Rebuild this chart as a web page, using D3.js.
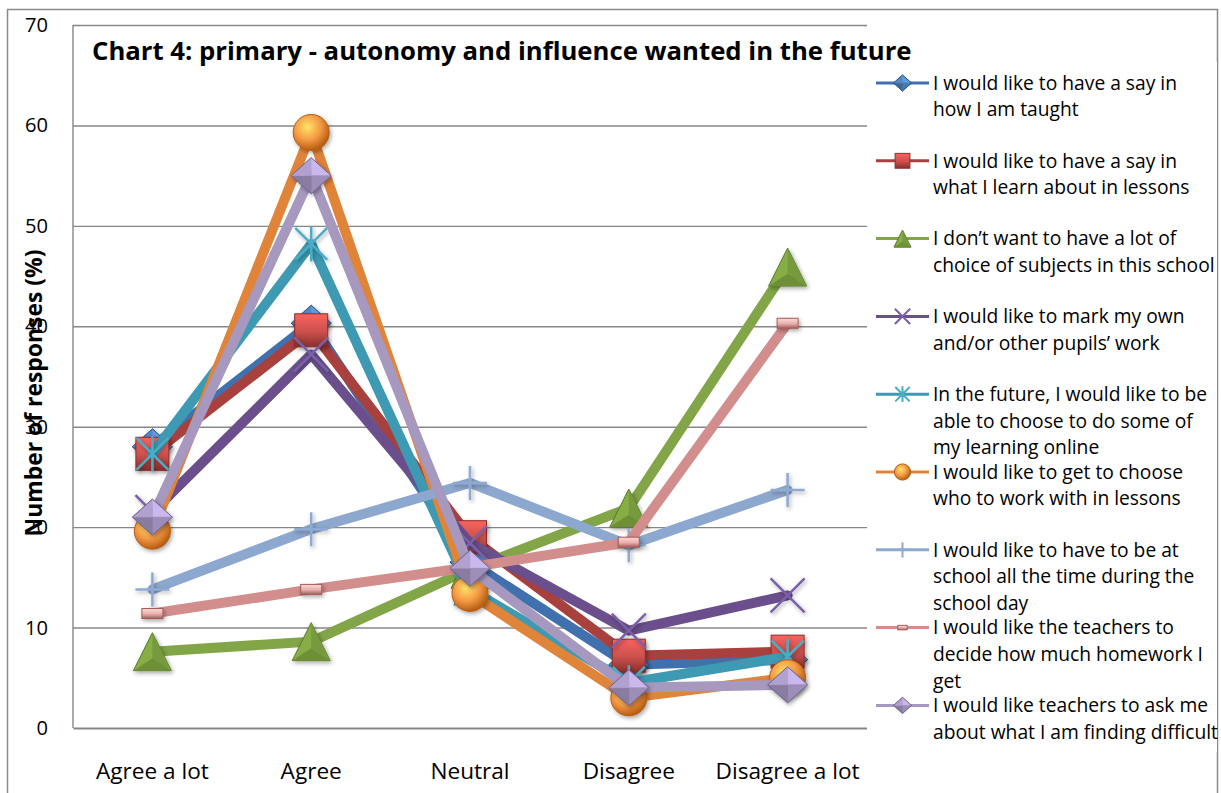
<!DOCTYPE html>
<html>
<head>
<meta charset="utf-8">
<script src="https://cdn.jsdelivr.net/npm/d3@7"></script>
<style>
  html, body { margin: 0; padding: 0; background: #fff; }
  svg { display: block; font-family: "Open Sans", "Noto Sans", sans-serif; }
</style>
</head>
<body>
<svg id="chart" width="1221" height="793"></svg>
<script>
// Survey responses: primary pupils, autonomy and influence wanted in the future (%)
const categories = ["Agree a lot", "Agree", "Neutral", "Disagree", "Disagree a lot"];
const yTicks = [0, 10, 20, 30, 40, 50, 60, 70];

const seriesNames = [
  "I would like to have a say in how I am taught",
  "I would like to have a say in what I learn about in lessons",
  "I don\u2019t want to have a lot of choice of subjects in this school",
  "I would like to mark my own and/or other pupils\u2019 work",
  "In the future, I would like to be able to choose to do some of my learning online",
  "I would like to get to choose who to work with in lessons",
  "I would like to have to be at school all the time during the school day",
  "I would like the teachers to decide how much homework I get",
  "I would like teachers to ask me about what I am finding difficult"
];

// Legend text as it wraps in the legend box
const legendLines = [
  ["I would like to have a say in", "how I am taught"],
  ["I would like to have a say in", "what I learn about in lessons"],
  ["I don\u2019t want to have a lot of", "choice of subjects in this school"],
  ["I would like to mark my own", "and/or other pupils\u2019 work"],
  ["In the future, I would like to be", "able to choose to do some of", "my learning online"],
  ["I would like to get to choose", "who to work with in lessons"],
  ["I would like to have to be at", "school all the time during the", "school day"],
  ["I would like the teachers to", "decide how much homework I", "get"],
  ["I would like teachers to ask me", "about what I am finding difficult"]
];

const sayHowTaught     = [28.0, 40.3, 16.5, 6.3, 6.8];
const sayWhatLearn     = [27.3, 39.6, 19.0, 7.2, 7.6];
const noSubjectChoice  = [7.6, 8.6, 15.8, 21.9, 45.9];
const markOwnWork      = [21.5, 37.2, 18.4, 9.7, 13.2];
const learnOnline      = [27.3, 48.2, 13.8, 4.5, 7.1];
const chooseWhoWith    = [19.6, 59.3, 13.4, 3.0, 5.0];
const atSchoolAllDay   = [13.8, 19.8, 24.4, 18.2, 23.7];
const teachersHomework = [11.4, 13.8, 16.0, 18.5, 40.3];
const askDifficult     = [21.0, 55.0, 15.9, 4.0, 4.3];

const seriesValues = [sayHowTaught, sayWhatLearn, noSubjectChoice, markOwnWork,
  learnOnline, chooseWhoWith, atSchoolAllDay, teachersHomework, askDifficult];

// Per-series look: line colour, marker shape and marker colours
const styles = [
  { line: "#4071AE", marker: "diamond", fill: "#4F81BD", dark: "#2C5180" },
  { line: "#A8403D", marker: "square",  fill: "#C9504D", dark: "#8A2F2C" },
  { line: "#82A548", marker: "triangle",fill: "#86AE45", dark: "#587a29" },
  { line: "#6A4F8C", marker: "x",       fill: "#7A60A8", dark: "#5A4282" },
  { line: "#3D9AB2", marker: "star",    fill: "#4BACC6", dark: "#2E8aa3" },
  { line: "#E0843A", marker: "circle",  fill: "#F59A45", dark: "#B65D12" },
  { line: "#8DA8CE", marker: "plus",    fill: "#8FAAD2", dark: "#7090BD" },
  { line: "#D28E8C", marker: "dash",    fill: "#E8AEAC", dark: "#A35D5B" },
  { line: "#A698BF", marker: "diamond", fill: "#A899C6", dark: "#6F6090" }
];

const svg = d3.select("#chart");
const defs = svg.append("defs");

// fit a text element's font size so it spans the given width
function fitWidth(sel, size, width) {
  sel.attr("font-size", size);
  const w = sel.node().getComputedTextLength();
  sel.attr("font-size", size * width / w);
  return size * width / w;
}

// soft drop shadow for the 3D markers
const shadow = defs.append("filter").attr("id", "shadow")
  .attr("x", "-50%").attr("y", "-50%").attr("width", "200%").attr("height", "200%");
shadow.append("feDropShadow").attr("dx", 1.5).attr("dy", 2).attr("stdDeviation", 2)
  .attr("flood-color", "#000").attr("flood-opacity", 0.35);

// gradients per series
styles.forEach((s, i) => {
  const lg = defs.append("linearGradient").attr("id", "lg" + i)
    .attr("x1", "0").attr("y1", "0").attr("x2", "0").attr("y2", "1");
  lg.append("stop").attr("offset", "0%").attr("stop-color", d3.color(s.fill).brighter(0.6));
  lg.append("stop").attr("offset", "55%").attr("stop-color", s.fill);
  lg.append("stop").attr("offset", "100%").attr("stop-color", s.dark);
  const rg = defs.append("radialGradient").attr("id", "rg" + i)
    .attr("cx", "40%").attr("cy", "35%").attr("r", "65%");
  rg.append("stop").attr("offset", "0%").attr("stop-color", d3.color(s.fill).brighter(1.1));
  rg.append("stop").attr("offset", "55%").attr("stop-color", s.fill);
  rg.append("stop").attr("offset", "100%").attr("stop-color", s.dark);
});

// Outer chart frame
svg.append("rect").attr("x", 7.5).attr("y", 9.5).attr("width", 1210).attr("height", 800)
  .attr("fill", "#fff").attr("stroke", "#8a8a8a").attr("stroke-width", 1.5);

const plot = { left: 73, right: 867, top: 25, bottom: 728 };

const x = d3.scaleBand().domain(categories).range([plot.left, plot.right]);
const cx = c => x(c) + x.bandwidth() / 2;
const y = d3.scaleLinear().domain([0, 70]).range([plot.bottom, plot.top]);

// Gridlines
svg.append("g")
  .attr("transform", `translate(${plot.left},0)`)
  .call(d3.axisLeft(y).tickValues(yTicks.filter(t => t > 0)).tickSize(-(plot.right - plot.left)).tickFormat(""))
  .call(g => g.select(".domain").remove())
  .call(g => g.selectAll("line").attr("stroke", "#878787").attr("stroke-width", 1.4));

// Left plot-area edge
svg.append("line").attr("x1", plot.left).attr("x2", plot.left)
  .attr("y1", plot.top).attr("y2", plot.bottom).attr("stroke", "#878787").attr("stroke-width", 1.4);

// Y axis labels
const yAxisG = svg.append("g")
  .attr("transform", `translate(${plot.left},0)`)
  .call(d3.axisLeft(y).tickValues(yTicks).tickSize(0).tickPadding(25))
  .call(g => g.select(".domain").remove())
  .call(g => g.selectAll("text").attr("fill", "#000")
    .attr("font-family", "'Open Sans', 'Noto Sans', sans-serif"));
{
  const t70 = yAxisG.selectAll("text").filter(d => d === 70);
  const fs = fitWidth(t70, 19, 23);
  yAxisG.selectAll("text").attr("font-size", fs);
}

// X axis
const xAxisG = svg.append("g")
  .attr("transform", `translate(0,${plot.bottom})`)
  .call(d3.axisBottom(x).tickSize(0).tickPadding(35))
  .call(g => g.select(".domain").attr("stroke", "#878787").attr("stroke-width", 2))
  .call(g => g.selectAll("text").attr("fill", "#000")
    .attr("font-family", "'Open Sans', 'Noto Sans', sans-serif"));
{
  const t0 = xAxisG.selectAll("text").filter(d => d === "Agree a lot");
  const fs = fitWidth(t0, 19, 113);
  xAxisG.selectAll("text").attr("font-size", fs);
}

// Marker drawing
function drawMarker(g, s, i, scale) {
  const k = scale;
  const sh = scale > 0.7 ? "url(#shadow)" : null;
  switch (s.marker) {
    case "diamond": {
      const w = 20 * k, h = 18 * k;
      const m = g.append("g").attr("filter", sh);
      const pts = [[0, -h], [w, 0], [0, h], [-w, 0]];
      const c = d3.color(s.fill);
      const shades = [c.brighter(0.5), c.darker(0.2), c.darker(0.6), c.brighter(0.15)];
      for (let f = 0; f < 4; f++) {
        const a = pts[f], b = pts[(f + 1) % 4];
        m.append("path").attr("d", `M0,0L${a[0]},${a[1]}L${b[0]},${b[1]}Z`)
          .attr("fill", shades[f]).attr("stroke", shades[f]).attr("stroke-width", 0.5);
      }
      m.append("path").attr("d", `M${pts.map(p => p.join(",")).join("L")}Z`)
        .attr("fill", "none").attr("stroke", s.dark).attr("stroke-width", 1);
      break;
    }
    case "square": {
      const r = 16.5 * k;
      g.append("rect").attr("x", -r).attr("y", -r).attr("width", 2 * r).attr("height", 2 * r)
        .attr("fill", `url(#lg${i})`).attr("stroke", s.dark).attr("stroke-width", 1)
        .attr("filter", sh);
      break;
    }
    case "triangle": {
      const w = 19 * k, h = 19 * k;
      const m = g.append("g").attr("filter", sh);
      m.append("path").attr("d", `M0,${-h}L${w},${h}L${-w},${h}Z`)
        .attr("fill", s.fill).attr("stroke", s.dark).attr("stroke-width", 1);
      m.append("path").attr("d", `M0,${-h}L${w},${h}L0,${h * 0.35}Z`)
        .attr("fill", d3.color(s.fill).darker(0.35));
      m.append("path").attr("d", `M${-w},${h}L${w},${h}L0,${h * 0.35}Z`)
        .attr("fill", d3.color(s.fill).darker(0.55));
      break;
    }
    case "circle": {
      g.append("circle").attr("r", 18 * k).attr("fill", `url(#rg${i})`)
        .attr("stroke", s.dark).attr("stroke-width", 1).attr("filter", sh);
      break;
    }
    case "x": {
      const r = 17 * k;
      g.append("path").attr("d", `M${-r},${-r}L${r},${r}M${-r},${r}L${r},${-r}`)
        .attr("stroke", s.fill).attr("stroke-width", 2.5 * Math.max(k, 0.8)).attr("filter", sh);
      break;
    }
    case "star": {
      const r = 16 * k;
      g.append("path").attr("d", `M${-r},${-r}L${r},${r}M${-r},${r}L${r},${-r}M0,${-r * 1.1}L0,${r * 1.1}`)
        .attr("stroke", s.fill).attr("stroke-width", 2.5 * Math.max(k, 0.8)).attr("filter", sh);
      break;
    }
    case "plus": {
      const r = 17 * k;
      g.append("path").attr("d", `M${-r},0L${r},0M0,${-r}L0,${r}`)
        .attr("stroke", s.fill).attr("stroke-width", 2.5 * Math.max(k, 0.8)).attr("filter", sh);
      break;
    }
    case "dash": {
      const w = 10.5 * k, h = 5 * k;
      g.append("rect").attr("x", -w).attr("y", -h).attr("width", 2 * w).attr("height", 2 * h)
        .attr("fill", `url(#lg${i})`).attr("stroke", s.dark).attr("stroke-width", 1)
        .attr("filter", sh);
      break;
    }
  }
}

// Series: each line followed by its markers
const line = d3.line().x(d => cx(d.cat)).y(d => y(d.v));
seriesValues.forEach((vals, i) => {
  const s = styles[i];
  const pts = vals.map((v, j) => ({ cat: categories[j], v }));
  const g = svg.append("g").attr("class", "series");
  g.append("path").datum(pts).attr("d", line)
    .attr("fill", "none").attr("stroke", s.line).attr("stroke-width", 10)
    .attr("stroke-linejoin", "round").attr("stroke-linecap", "round");
  g.selectAll("g.pt").data(pts).join("g").attr("class", "pt")
    .attr("transform", d => `translate(${cx(d.cat)},${y(d.v)})`)
    .each(function () { drawMarker(d3.select(this), s, i, 1); });
});

// Legend (white box to the right of the plot)
const legend = svg.append("g");
legend.append("rect").attr("x", plot.right).attr("y", 62).attr("width", 350).attr("height", 690)
  .attr("fill", "#fff");
const legendTop = 83, legendStep = 77.8, lineH = 26.6;
// font size from the widest legend line
const probe = svg.append("text").attr("font-size", 18).text("about what I am finding difficult");
const legendFont = fitWidth(probe, 18, 285);
probe.remove();
seriesNames.forEach((name, i) => {
  const s = styles[i];
  const gy = legendTop + i * legendStep;
  const g = legend.append("g").attr("transform", `translate(0,${gy})`);
  g.append("line").attr("x1", 876).attr("x2", 929).attr("y1", 0).attr("y2", 0)
    .attr("stroke", s.line).attr("stroke-width", 3);
  const mg = g.append("g").attr("transform", "translate(902.5,0)");
  drawMarker(mg, s, i, 0.45);
  const t = g.append("text").attr("x", 933).attr("y", 0).attr("font-size", legendFont).attr("fill", "#000");
  legendLines[i].forEach((ln, j) => {
    t.append("tspan").attr("x", 933).attr("y", j * lineH).attr("dy", "0.35em").text(ln);
  });
});

// Title, fitted to its width
const title = svg.append("text").attr("x", 92).attr("y", 60)
  .attr("font-weight", "bold").attr("fill", "#000")
  .text("Chart 4: primary - autonomy and influence wanted in the future");
fitWidth(title, 24, 820);

// Y axis title
const yt = svg.append("text")
  .attr("transform", "translate(33,393) rotate(-90)")
  .attr("text-anchor", "middle").attr("dominant-baseline", "central")
  .attr("font-weight", "bold").attr("fill", "#000")
  .text("Number of responses (%)");
fitWidth(yt, 21, 287);
</script>
</body>
</html>
